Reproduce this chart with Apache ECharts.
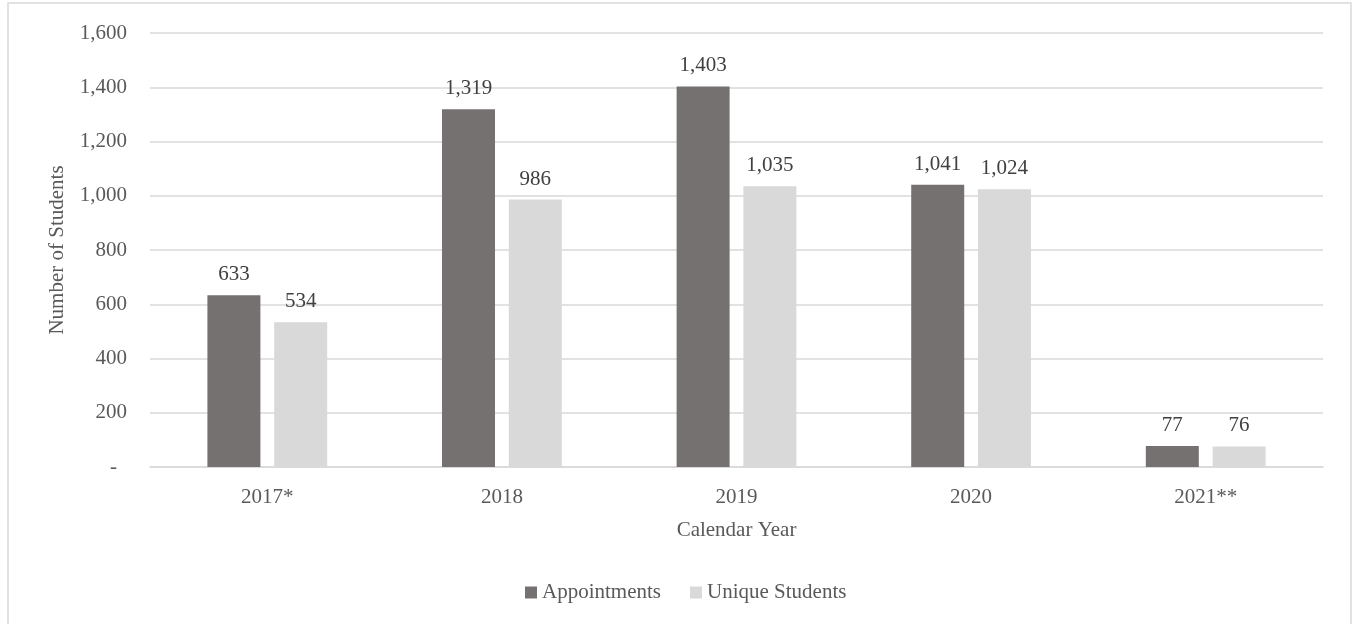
<!DOCTYPE html>
<html>
<head>
<meta charset="utf-8">
<script src="https://cdn.jsdelivr.net/npm/echarts@6/dist/echarts.min.js"></script>
<style>
html,body{margin:0;padding:0;background:#fff;}
#chart{width:1353px;height:624px;}
</style>
</head>
<body>
<div id="chart"></div>
<script>
const categories = ['2017*', '2018', '2019', '2020', '2021**'];
const appointments = [633, 1319, 1403, 1041, 77];
const uniqueStudents = [534, 986, 1035, 1024, 76];
const seriesNames = ['Appointments', 'Unique Students'];
const yTicks = [0, 200, 400, 600, 800, 1000, 1200, 1400, 1600];

const FONT = '"Liberation Serif", "Times New Roman", serif';
const fmt = v => v.toLocaleString('en-US');

const chart = echarts.init(document.getElementById('chart'));
chart.setOption({
  backgroundColor: '#ffffff',
  animation: false,
  textStyle: { fontFamily: FONT },
  graphic: [{
    type: 'rect',
    shape: { x: 8, y: 3, width: 1343, height: 700 },
    style: { fill: 'none', stroke: '#d9d9d9', lineWidth: 1.5 },
    silent: true, z: -1
  }],
  grid: { left: 150, right: 30, top: 33, bottom: 157, containLabel: false },
  legend: {
    data: seriesNames,
    left: 520, top: 577,
    itemWidth: 12, itemHeight: 12, itemGap: 29,
    icon: 'rect',
    textStyle: { fontFamily: FONT, fontSize: 21, color: '#595959' }
  },
  xAxis: {
    type: 'category',
    data: categories,
    axisLine: { lineStyle: { color: '#d9d9d9', width: 1.5 } },
    axisTick: { show: false },
    axisLabel: { fontFamily: FONT, fontSize: 21, color: '#595959', margin: 20 },
    name: 'Calendar Year',
    nameLocation: 'middle',
    nameGap: 53,
    nameTextStyle: { fontFamily: FONT, fontSize: 21, color: '#595959' }
  },
  yAxis: {
    type: 'value',
    min: yTicks[0], max: yTicks[yTicks.length - 1], interval: yTicks[1] - yTicks[0],
    axisLine: { show: false },
    axisTick: { show: false },
    splitLine: { lineStyle: { color: '#d9d9d9', width: 1.5 } },
    axisLabel: {
      fontFamily: FONT, fontSize: 21, color: '#595959', margin: 23,
      formatter: v => v === 0 ? '{d|-}' : fmt(v),
      rich: { d: { fontFamily: FONT, fontSize: 21, color: '#595959', padding: [0, 10, 0, 0] } }
    },
    name: 'Number of Students',
    nameLocation: 'middle',
    nameGap: 82,
    nameTextStyle: { fontFamily: FONT, fontSize: 21, color: '#595959' }
  },
  series: [
    {
      name: seriesNames[0], type: 'bar', data: appointments,
      barWidth: 53, barGap: '26%',
      itemStyle: { color: '#767171' },
      label: { show: true, position: 'top', distance: 10, fontFamily: FONT, fontSize: 21, color: '#404040', formatter: p => fmt(p.value) }
    },
    {
      name: seriesNames[1], type: 'bar', data: uniqueStudents,
      barWidth: 53,
      itemStyle: { color: '#d9d9d9' },
      label: { show: true, position: 'top', distance: 10, fontFamily: FONT, fontSize: 21, color: '#404040', formatter: p => fmt(p.value) }
    }
  ]
});
</script>
</body>
</html>
